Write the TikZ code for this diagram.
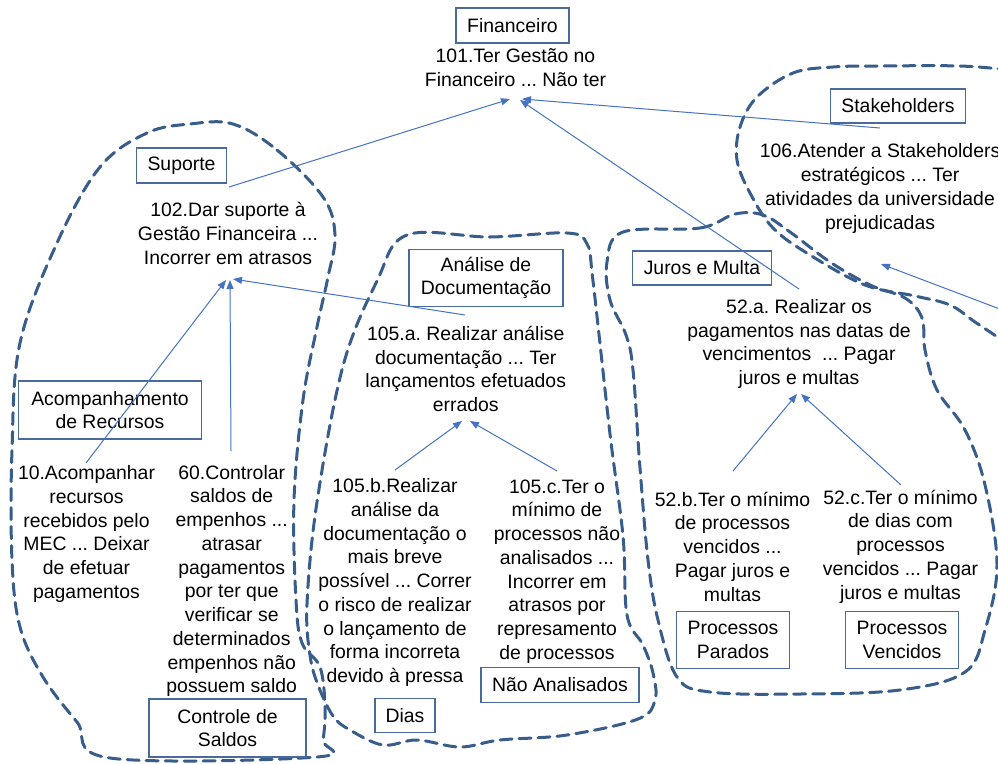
\documentclass[tikz,border=0pt]{standalone}
\usepackage{fontspec}
\setmainfont{Liberation Sans}
\usetikzlibrary{arrows.meta}
\definecolor{conn}{RGB}{68,114,196}
\definecolor{boxc}{RGB}{74,107,154}
\definecolor{dash}{RGB}{56,93,138}
\tikzset{
  txt/.style={align=center, inner sep=0pt, font=\fontsize{19.4}{23.75}\selectfont\frenchspacing},
  lbl/.style={draw=boxc, line width=1.3pt, align=center, inner sep=0pt, font=\fontsize{19.4}{23.75}\selectfont},
  conn/.style={draw=conn, line width=1pt, -{Triangle[length=9pt,width=7pt]}},
  region/.style={draw=dash, line width=3pt, dash pattern=on 12pt off 7pt, line cap=round},
}
\begin{document}
\begin{tikzpicture}[x=1pt,y=-1pt]
\useasboundingbox (0,0) rectangle (998,763);
% regions
\draw[region] plot[smooth cycle, tension=0.6] coordinates {(233,124) (277,150) (323,197) (335,235) (328,277) (317,327) (303,400) (294,500) (296,600) (302,643) (320,667) (325,707) (323,740) (317,757) (110,758) (77,722) (43,677) (20,627) (12,560) (12,450) (20,343) (57,243) (100,167) (147,133) (190,124)};
\draw[region] plot[smooth cycle, tension=0.6] coordinates {(407,235) (490,237) (567,233) (587,244) (593,281) (610,434) (623,536) (627,615) (643,645) (653,673) (655,700) (638,719) (567,735) (500,740) (460,747) (417,740) (383,745) (350,730) (333,716) (318,685) (310,655) (307,604) (317,502) (343,366) (377,281)};
\draw[region] plot[smooth cycle, tension=0.6] coordinates {(623,232) (700,228) (735,214) (763,215) (790,232) (830,262) (870,285) (905,298) (922,318) (925,350) (937,390) (965,430) (985,485) (997,565) (985,630) (965,672) (900,690) (800,694) (710,692) (677,677) (658,620) (648,560) (640,468) (633,370) (626,335) (610,300) (607,262)};
\draw[region] plot[smooth, tension=0.6] coordinates {(1010,70) (960,66) (880,66) (833,67) (793,73) (757,97) (740,127) (737,160) (750,193) (773,228) (810,255) (865,285) (915,296) (950,305) (975,322) (1005,342)};
% labels
\node[lbl, minimum width=113pt, minimum height=35pt] (bFin) at (512.5,25.5) {Financeiro};
\node[lbl, minimum width=135pt, minimum height=34pt] (bSta) at (898,106) {Stakeholders};
\node[lbl, minimum width=90pt, minimum height=35pt] (bSup) at (181.5,165.5) {Suporte};
\node[lbl, minimum width=183pt, minimum height=58pt] (bAco) at (110,410) {Acompanhamento\\de Recursos};
\node[lbl, minimum width=157pt, minimum height=58pt] (bCon) at (227.5,728) {Controle de\\Saldos};
\node[lbl, minimum width=154pt, minimum height=57pt] (bAna) at (486,278) {Análise de\\Documentação};
\node[lbl, minimum width=158pt, minimum height=35pt] (bNao) at (560,685) {Não Analisados};
\node[lbl, minimum width=60pt, minimum height=34pt] (bDia) at (405,715.5) {Dias};
\node[lbl, minimum width=139pt, minimum height=34pt] (bJur) at (702,268) {Juros e Multa};
\node[lbl, minimum width=113pt, minimum height=57pt] (bPar) at (733,640) {Processos\\Parados};
\node[lbl, minimum width=113pt, minimum height=57pt] (bVen) at (902,640) {Processos\\Vencidos};
% texts
\node[txt] (t101) at (515.5,68) {101.Ter Gestão no\\Financeiro ... Não ter};
\node[txt] (t102) at (228,233.5) {102.Dar suporte à\\Gestão Financeira ...\\Incorrer em atrasos};
\node[txt] (t106) at (880,188.5) {106.Atender a Stakeholders\\estratégicos ... Ter\\atividades da universidade\\prejudicadas};
\node[txt] (t10) at (86.5,534) {10.Acompanhar\\recursos\\recebidos pelo\\MEC ... Deixar\\de efetuar\\pagamentos};
\node[txt] (t60) at (231.7,581) {60.Controlar\\saldos de\\empenhos ...\\atrasar\\pagamentos\\por ter que\\verificar se\\determinados\\empenhos não\\possuem saldo};
\node[txt] (t105a) at (465.7,369) {105.a. Realizar análise\\documentação ... Ter\\lançamentos efetuados\\errados};
\node[txt] (t105b) at (395,582.5) {105.b.Realizar\\análise da\\documentação o\\mais breve\\possível ... Correr\\o risco de realizar\\o lançamento de\\forma incorreta\\devido à pressa};
\node[txt] (t105c) at (557,571.5) {105.c.Ter o\\mínimo de\\processos não\\analisados ...\\Incorrer em\\atrasos por\\represamento\\de processos};
\node[txt] (t52a) at (799,344) {52.a. Realizar os\\pagamentos nas datas de\\vencimentos\ \ ... Pagar\\juros e multas};
\node[txt] (t52b) at (732.5,546.5) {52.b.Ter o mínimo\\de processos\\vencidos ...\\Pagar juros e\\multas};
\node[txt] (t52c) at (900.5,546.5) {52.c.Ter o mínimo\\de dias com\\processos\\vencidos ... Pagar\\juros e multas};
\coordinate (ext) at (1005,311);
% connectors
\draw[conn] ([xshift=1pt,yshift=46.5pt]t102.center) -- ([xshift=-5.5pt,yshift=-31pt]t101.center);
\draw[conn] ([yshift=55pt]t52a.center) -- ([xshift=4.5pt,yshift=-32pt]t101.center);
\draw[conn] ([yshift=60.5pt]t106.center) -- ([xshift=6.5pt,yshift=-31pt]t101.center);
\draw[conn] ([xshift=-0.5pt,yshift=71pt]t10.center) -- ([xshift=-2pt,yshift=-46.5pt]t102.center);
\draw[conn] ([xshift=-0.7pt,yshift=130pt]t60.center) -- ([xshift=2pt,yshift=-46.5pt]t102.center);
\draw[conn] ([xshift=-0.7pt,yshift=54pt]t105a.center) -- ([xshift=5pt,yshift=-45.5pt]t102.center);
\draw[conn] ([yshift=112.5pt]t105b.center) -- ([xshift=-3.7pt,yshift=-52pt]t105a.center);
\draw[conn] ([yshift=100.5pt]t105c.center) -- ([xshift=4.3pt,yshift=-52pt]t105a.center);
\draw[conn] ([xshift=0.5pt,yshift=75.5pt]t52b.center) -- ([xshift=-2pt,yshift=-50pt]t52a.center);
\draw[conn] ([xshift=0.5pt,yshift=61.5pt]t52c.center) -- ([xshift=2pt,yshift=-50pt]t52a.center);
\draw[conn] (ext) -- ([xshift=1pt,yshift=-75.5pt]t106.center);
\end{tikzpicture}
\end{document}
